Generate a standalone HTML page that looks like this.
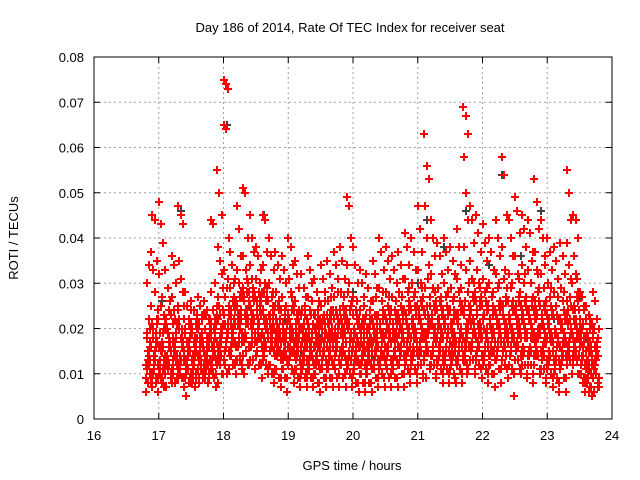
<!DOCTYPE html>
<html><head><meta charset="utf-8"><style>
body{margin:0;background:#fff}
svg{display:block;font-family:"Liberation Sans",sans-serif}
</style></head><body>
<svg id="c" width="640" height="480">
<rect width="640" height="480" fill="#fff"/>
<text x="350" y="32" font-size="13" text-anchor="middle">Day 186 of 2014, Rate Of TEC Index for receiver seat</text>
<text x="352" y="470" font-size="13" text-anchor="middle">GPS time / hours</text>
<text x="0" y="0" font-size="13" text-anchor="middle" transform="translate(18,238) rotate(-90)">ROTI / TECUs</text>
<g id="grid"></g>
<g id="pts" shape-rendering="crispEdges"></g>
<g id="axes"></g>
</svg>
<script>
const segStarts=[16.8,16.9,17.0,17.1,17.2,17.3,17.4,17.5,17.6,17.7,17.8,17.9,18.0,18.1,18.2,18.3,18.4,18.5,18.6,18.7,18.8,18.9,19.0,19.1,19.2,19.3,19.4,19.5,19.6,19.7,19.8,19.9,20.0,20.1,20.2,20.3,20.4,20.5,20.6,20.7,20.8,20.9,21.0,21.1,21.2,21.3,21.4,21.5,21.6,21.7,21.8,21.9,22.0,22.1,22.2,22.3,22.4,22.5,22.6,22.7,22.8,22.9,23.0,23.1,23.2,23.3,23.4,23.5,23.6,23.7];
const segValues=[
[6,8,10,12,14,16,18,22,25,30,34,37,11,13,9,15,20,7,12,17],
[45,44,35,33,28,22,18,15,12,10,8,6,14,19,24,11,9,16,13,21],
[48,43,39,32,27,23,19,15,13,10,8,7,12,17,21,25,11,14,9,16],
[33,29,26,22,19,16,13,11,9,7,12,15,20,24,10,14,18,8,13,17],
[36,34,30,27,24,21,18,15,12,10,8,14,17,22,25,11,13,9,16,19],
[47,45,43,35,31,28,22,18,15,12,9,7,14,20,25,11,16,13,10,17],
[28,25,22,20,17,15,13,11,9,5,14,18,12,16,24,10,8,19,13,21],
[26,24,21,19,17,15,13,12,10,8,14,18,11,16,23,9,7,20,13,15],
[27,25,23,20,18,16,14,12,10,8,13,17,21,11,15,9,19,12,16,22],
[26,24,22,20,18,16,14,12,10,9,15,19,11,17,13,23,8,21,14,12],
[44,43,30,28,24,21,18,15,13,11,9,7,16,20,25,12,14,17,10,22],
[55,50,45,38,35,32,27,23,19,15,12,10,8,17,21,25,14,29,13,18],
[75,74,73,65,64,40,33,29,25,21,18,15,12,10,23,27,19,14,16,31],
[37,34,31,29,26,24,21,19,17,14,12,10,22,27,16,20,25,13,18,30],
[47,42,36,33,30,28,25,22,19,16,13,11,23,27,17,21,14,29,18,24],
[51,50,40,36,33,30,27,24,21,18,15,12,10,22,26,19,28,16,23,31],
[45,40,37,34,31,28,25,22,19,16,13,11,24,27,17,21,29,14,20,26],
[38,36,33,31,28,26,23,21,18,15,12,9,24,27,19,22,30,16,20,25],
[45,44,37,34,30,27,24,21,18,15,12,10,22,26,19,28,16,23,14,29],
[40,36,33,30,27,24,21,18,15,12,10,8,22,25,17,20,28,14,19,23],
[37,34,31,28,25,22,19,16,13,11,9,7,21,24,17,20,26,14,18,15],
[36,33,30,27,24,21,18,15,13,11,9,6,20,23,16,19,25,12,17,14],
[40,38,34,31,28,25,22,19,16,13,11,8,21,24,17,20,27,14,18,15],
[35,32,29,26,23,20,17,15,13,11,9,7,19,22,16,18,24,12,14,21],
[32,29,27,24,21,19,17,15,13,11,9,7,20,23,16,18,25,12,14,10],
[36,33,30,27,24,21,18,15,13,11,9,7,20,23,16,19,26,12,17,14],
[31,28,26,23,21,18,16,14,12,10,8,6,19,22,15,17,24,11,13,20],
[34,31,28,25,22,19,17,15,13,11,9,7,20,23,16,18,26,12,14,21],
[35,32,29,26,23,20,18,15,13,11,9,7,21,24,16,19,27,12,14,22],
[37,34,31,27,24,21,18,16,13,11,9,7,20,23,15,19,28,12,17,22],
[38,35,31,28,25,22,19,16,14,12,9,7,21,24,17,20,27,13,15,23],
[49,47,40,34,30,26,22,18,15,12,10,7,20,24,17,28,13,16,21,25],
[38,34,30,27,24,21,18,15,13,11,8,6,20,23,16,19,26,12,14,22],
[33,30,27,24,21,18,16,14,12,10,8,6,19,22,15,17,25,11,13,20],
[32,29,26,23,20,18,16,14,12,10,8,6,19,22,15,17,24,11,13,21],
[35,32,29,26,23,20,17,15,13,11,9,7,20,23,16,18,27,12,14,22],
[40,37,33,29,26,23,20,17,14,12,10,7,21,24,16,19,28,13,15,22],
[38,35,31,28,25,22,19,16,13,11,9,7,21,24,17,20,27,12,15,23],
[36,33,30,27,24,21,18,15,13,11,9,7,20,23,16,19,26,12,14,22],
[37,34,31,28,25,22,19,16,14,12,10,7,21,24,17,20,27,13,15,23],
[41,38,34,31,28,25,22,19,16,13,11,8,23,26,18,21,29,14,17,24],
[40,37,33,30,27,24,21,18,15,13,11,8,22,25,17,20,28,14,16,23],
[47,42,37,33,30,27,24,21,18,15,12,9,23,26,19,22,29,14,17,25],
[63,56,53,47,40,34,29,25,21,18,15,12,9,23,27,19,31,14,17,22],
[44,40,36,32,29,26,23,20,17,14,12,9,22,25,18,21,28,13,16,24],
[39,36,32,29,26,23,20,17,15,13,11,8,22,25,18,21,27,13,16,24],
[40,37,33,30,27,24,21,18,15,13,11,8,22,25,17,20,28,14,16,23],
[38,35,32,29,26,23,20,17,15,12,10,8,21,24,17,19,27,13,16,22],
[42,38,34,31,28,25,22,19,16,13,11,8,23,26,18,21,29,14,17,24],
[69,67,63,58,50,44,38,33,28,24,20,16,13,10,22,26,18,30,14,12],
[47,44,39,35,31,28,25,22,19,16,13,10,24,27,18,21,30,14,17,26],
[45,41,37,33,30,27,24,21,18,15,12,9,23,26,18,21,29,14,16,25],
[43,39,35,31,28,25,22,19,16,13,11,8,23,26,17,20,29,14,16,24],
[40,37,33,30,27,24,21,18,15,12,10,7,22,25,17,20,28,13,15,23],
[44,40,36,32,29,26,23,20,17,14,11,8,22,25,18,21,30,13,16,24],
[58,54,45,38,33,29,25,21,18,15,12,9,23,27,19,31,14,17,22,26],
[44,40,36,32,29,26,23,20,17,14,11,5,22,25,18,21,30,13,16,24],
[49,46,41,36,32,28,25,22,19,16,13,10,24,27,18,21,31,14,17,26],
[45,42,38,34,30,27,24,21,18,15,12,9,23,26,19,22,32,14,16,25],
[44,41,37,33,30,27,24,21,18,15,12,8,23,26,19,22,35,14,16,25],
[53,48,42,37,33,29,26,23,20,17,14,11,24,28,19,22,32,15,18,26],
[44,40,36,32,29,26,23,20,17,14,11,8,22,25,18,21,34,13,16,24],
[40,37,33,30,27,24,21,18,15,12,10,7,22,25,17,20,29,13,15,23],
[38,35,31,28,25,22,19,16,13,11,9,6,20,23,16,19,27,12,14,22],
[39,36,32,29,26,23,20,17,14,12,9,6,21,24,17,20,28,13,15,22],
[55,50,44,39,34,30,26,22,19,16,13,10,24,27,18,21,31,14,17,25],
[45,44,40,36,32,28,25,22,19,16,13,10,24,27,18,21,31,14,17,26],
[28,27,24,22,20,18,16,14,12,10,8,6,19,21,15,17,25,11,13,9],
[25,23,21,19,17,15,13,11,10,8,6,5,18,20,14,16,22,12,9,7],
[28,26,22,19,16,14,12,10,8,6,15,18,11,13,9,20,17,7,12,14]
];
const segValuesB=[
[9,13,17,21,11,15,8,19,12,16],[10,14,18,22,12,16,9,20,13,17],[11,15,19,12,16,9,20,13,17,8],[10,14,18,23,12,16,9,20,13,17],
[11,15,19,24,13,17,9,21,14,18],[10,14,18,22,12,16,9,20,13,17],[9,13,17,21,11,15,8,19,12,16],[10,14,18,22,12,16,9,20,13,17],
[11,15,19,23,13,17,9,21,14,18],[10,14,18,22,12,16,9,20,13,17],[11,15,19,23,13,17,10,21,14,18],[12,16,20,24,14,18,10,22,15,19],
[13,17,21,25,15,19,11,23,16,20],[14,18,22,26,16,20,12,24,17,21],[13,18,23,27,16,20,12,25,17,22],[14,19,24,28,17,21,12,26,18,22],
[13,18,23,27,16,21,11,25,17,22],[14,19,24,28,17,21,12,26,18,23],[13,18,22,26,16,20,11,24,17,21],[12,17,21,25,15,19,10,23,16,20],
[11,16,20,24,14,18,9,22,15,19],[11,15,19,23,13,17,9,21,14,18],[12,16,20,24,14,18,10,22,15,19],[11,15,19,23,13,17,9,21,14,18],
[10,14,18,22,12,16,9,20,13,17],[11,15,19,23,13,17,9,21,14,18],[10,14,18,22,12,16,8,20,13,17],[11,15,19,23,13,17,9,21,14,18],
[11,15,19,24,13,17,9,21,14,18],[12,16,20,24,14,18,10,22,15,19],[12,16,20,24,14,18,10,22,15,19],[11,15,19,23,13,17,9,21,14,18],
[10,14,18,22,12,16,8,20,13,17],[10,14,18,22,12,16,8,20,13,17],[10,14,18,22,12,16,8,20,13,17],[11,15,19,23,13,17,9,21,14,18],
[11,15,19,23,13,17,9,21,14,18],[12,16,20,24,14,18,10,22,15,19],[11,15,19,23,13,17,9,21,14,18],[12,16,20,24,14,18,10,22,15,19],
[12,16,20,24,14,18,10,22,15,19],[12,16,20,25,14,18,10,22,15,19],[12,16,20,24,14,18,10,22,15,19],[13,17,21,25,15,19,11,23,16,20],
[12,16,20,24,14,18,10,22,15,19],[12,16,20,24,14,18,10,22,15,19],[12,16,20,24,14,18,10,22,15,19],[11,15,19,23,13,17,9,21,14,18],
[12,16,20,24,14,18,10,22,15,19],[13,17,21,25,15,19,11,23,16,20],[13,17,21,26,15,19,11,23,16,20],[13,17,21,25,15,19,11,23,16,20],
[12,16,20,24,14,18,10,22,15,19],[12,16,20,24,14,18,10,22,15,19],[13,17,21,25,15,19,11,23,16,20],[13,17,21,26,15,19,11,23,16,20],
[12,16,20,24,14,18,10,22,15,19],[13,17,21,25,15,19,11,23,16,20],[12,16,20,24,14,18,10,22,15,19],[12,16,20,24,14,18,10,22,15,19],
[12,16,20,25,14,18,10,22,15,19],[11,15,19,23,13,17,9,21,14,18],[11,15,19,23,13,17,9,21,14,18],[10,14,18,22,12,16,8,20,13,17],
[11,15,19,23,13,17,9,21,14,18],[12,16,20,24,14,18,10,22,15,19],[12,16,20,24,14,18,10,22,15,19],[10,14,18,22,12,16,8,20,13,17],
[9,13,17,21,11,15,7,19,12,16],[9,13,17,20,11,15,7,18,12,16]
];
const darkHours=[17.35,17.05,18.05,18.62,18.95,19.5,20.0,20.6,21.15,21.4,21.75,22.3,22.9,23.3,23.5,17.8,18.4,19.2,20.3,21.0,22.1,22.6,23.1,23.6,19.7,20.9];
const darkValues=[46,26,65,45,22,18,28,36,44,38,46,54,46,55,27,20,25,15,14,30,34,36,22,18,12,24];
const xTicks=[16,17,18,19,20,21,22,23,24];
const yTicks=[0,0.01,0.02,0.03,0.04,0.05,0.06,0.07,0.08];

const L=94,R=612,T=57,B=419;
const xs=h=>L+(h-16)/8*(R-L);
const ys=v=>B-v/0.08*(B-T);
const NS="http://www.w3.org/2000/svg";
const grid=document.getElementById('grid'),axes=document.getElementById('axes'),pts=document.getElementById('pts');
function mk(tag,attrs,parent){const e=document.createElementNS(NS,tag);for(const k in attrs)e.setAttribute(k,attrs[k]);parent.appendChild(e);return e;}
xTicks.forEach(t=>{
  const x=xs(t);
  if(t>16&&t<24){const g=mk('line',{x1:x,x2:x,y1:T,y2:B,stroke:'#a0a0a0','stroke-dasharray':'2,3'},grid);
  
  }
  const tk=mk('path',{d:`M${x} ${B}v-6M${x} ${T}v6`,stroke:'#000'},axes);
  
  
  const lb=mk('text',{x:x,y:B+21,'font-size':13,'text-anchor':'middle'},axes);lb.textContent=t;
  
  
});
yTicks.forEach(t=>{
  const y=ys(t);
  if(t>0&&t<0.08){const g=mk('line',{x1:L,x2:R,y1:y,y2:y,stroke:'#a0a0a0','stroke-dasharray':'2,3'},grid);
  
  }
  const tk=mk('path',{d:`M${L} ${y}h6M${R} ${y}h-6`,stroke:'#000'},axes);
  
  
  const lb=mk('text',{x:L-10,y:y+5,'font-size':13,'text-anchor':'end'},axes);lb.textContent=t===0?'0':t.toFixed(2);
  
  
});
const fr=mk('rect',{x:L,y:T,width:R-L,height:B-T,fill:'none',stroke:'#000'},axes);


function cross(h,v,col,name){
  const x=Math.round(xs(h)),y=Math.round(ys(v));
  const p=mk('path',{d:`M${x-4} ${y}h8M${x} ${y-4}v8`,stroke:col,'stroke-width':1.6},pts);
  
  
}
darkHours.forEach((h,i)=>cross(h,darkValues[i]/1000,'#404040','dark-point'));
segStarts.forEach((s,i)=>{
  const vals=segValues[i],n=vals.length;
  vals.forEach((v,j)=>cross(s+(j*7%n+0.5)/n*0.1,v/1000,'#ff0000','roti-point'));
  const vb=segValuesB[i],m=vb.length;
  vb.forEach((v,j)=>cross(s+(j*3%m+0.25)/m*0.1,v/1000,'#ff0000','roti-point'));
});
</script>
</body></html>
